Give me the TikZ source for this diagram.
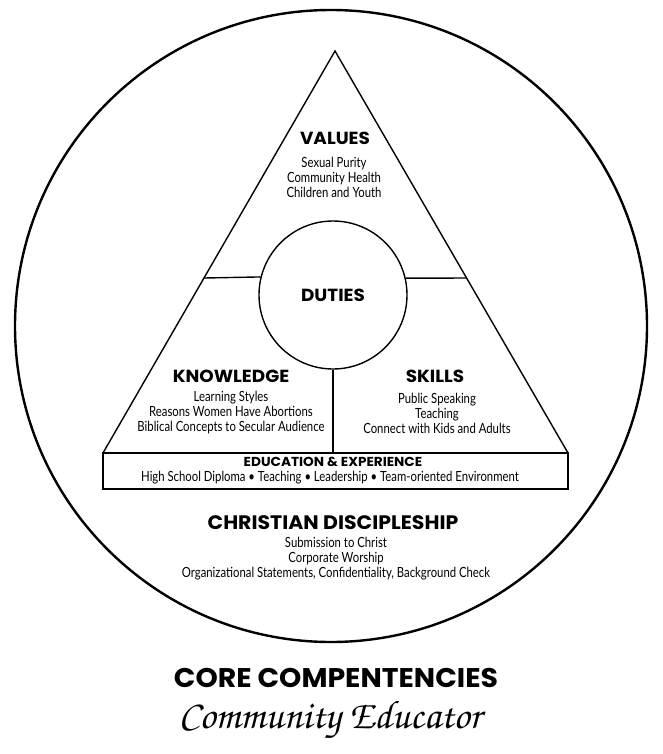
\documentclass[tikz,border=0pt]{standalone}
\usepackage[T1]{fontenc}
\usepackage{fontspec}
\setmainfont{Lato}[FakeStretch=0.81]
\newfontfamily\headfont{Poppins}[FakeStretch=1.05]
\usetikzlibrary{calc}
\begin{document}
\begin{tikzpicture}[x=1pt,y=-1pt,
  thinline/.style={line width=1.4pt},
  head/.style={font=\headfont\bfseries\fontsize{17.5}{20}\selectfont, inner sep=0},
  subhead/.style={font=\headfont\bfseries\fontsize{13}{15}\selectfont, inner sep=0},
  bighead/.style={font=\headfont\bfseries\fontsize{19.5}{22}\selectfont, inner sep=0},
  titlehead/.style={font=\headfont\bfseries\fontsize{27}{30}\selectfont, inner sep=0},
  body/.style={font=\fontsize{14}{15}\selectfont, align=center, inner sep=0},
  scripttext/.style={font=\fontencoding{T1}\fontfamily{pzc}\fontseries{mb}\fontshape{it}\fontsize{40}{44}\selectfont, inner sep=0}
]
\useasboundingbox (0,0) rectangle (662,754);
\fill[white] (0,0) rectangle (662,754);
\node[draw, circle, line width=2.4pt, minimum size=632pt, inner sep=0] (outer) at (331,326) {};
\coordinate (apex) at (335,51);
\coordinate (bl) at (103,453);
\coordinate (br) at (568,453);
\draw[thinline, line join=miter] (bl) -- (apex) -- (br);
\node[draw, thinline, minimum width=465pt, minimum height=36pt, inner sep=0] (edu) at (335.5,471) {};
\node[draw, thinline, circle, minimum size=148pt, inner sep=0, font=\headfont\bfseries\fontsize{17.5}{20}\selectfont] (duties) at (333,295) {DUTIES};
\coordinate (hl) at ($(bl)!0.4353!(apex)$);
\coordinate (hr) at ($(br)!0.4353!(apex)$);
\draw[thinline] (hl) -- (duties.166.7);
\draw[thinline] (duties.13.3) -- (hr);
\draw[thinline] (duties.south) -- (duties.south |- edu.north);
\node[head] (valuesH) at (335,138) {VALUES};
\node[body] (valuesB) at (334,177) {Sexual Purity\\Community Health\\Children and Youth};
\node[head] (knowH) at (231,376) {KNOWLEDGE};
\node[body] (knowB) at (231,413) {Learning Styles\\Reasons Women Have Abortions\\Biblical Concepts to Secular Audience};
\node[head] (skillH) at (435,376) {SKILLS};
\node[body] (skillB) at (437,413) {Public Speaking\\Teaching\\Connect with Kids and Adults};
\node[subhead] (eduH) at (333,462) {EDUCATION \& EXPERIENCE};
\node[body] (eduB) at (330,478) {High School Diploma • Teaching • Leadership • Team-oriented Environment};
\node[bighead] (cdH) at (333,523) {CHRISTIAN DISCIPLESHIP};
\node[body] (cdB) at (336,559) {Submission to Christ\\Corporate Worship\\Organizational Statements, Confidentiality, Background Check};
\node[titlehead] (core) at (336,678) {CORE COMPENTENCIES};
\node[scripttext] (ce) at (330,720) {Community Educator};
\end{tikzpicture}
\end{document}
